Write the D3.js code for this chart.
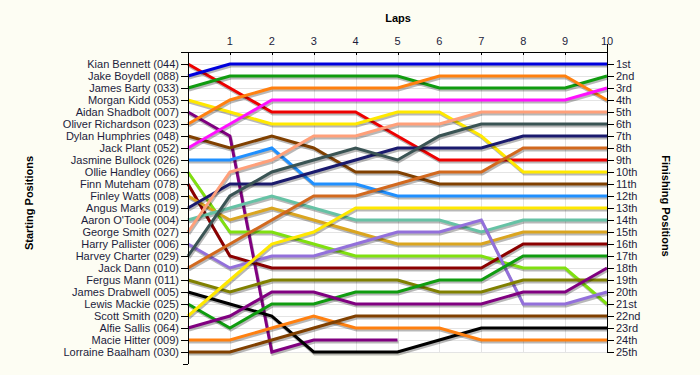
<!DOCTYPE html>
<meta charset="utf-8">
<script src="https://d3js.org/d3.v7.min.js"></script>
<style>
  body { margin: 0; background: #fdfdf3; }
</style>
<div id="chart"></div>
<script>

// drivers in starting order
const drivers = [
  "Kian Bennett (044)", "Jake Boydell (088)", "James Barty (033)", "Morgan Kidd (053)",
  "Aidan Shadbolt (007)", "Oliver Richardson (023)", "Dylan Humphries (048)", "Jack Plant (052)",
  "Jasmine Bullock (026)", "Ollie Handley (066)", "Finn Muteham (078)", "Finley Watts (008)",
  "Angus Marks (019)", "Aaron O'Toole (004)", "George Smith (027)", "Harry Pallister (006)",
  "Harvey Charter (029)", "Jack Dann (010)", "Fergus Mann (011)", "James Drabwell (005)",
  "Lewis Mackie (025)", "Scott Smith (020)", "Alfie Sallis (064)", "Macie Hitter (009)",
  "Lorraine Baalham (030)"
];

const lineColors = [
  "#ee0000", "#0000dd", "#109c10", "#ffe800", "#800080", "#ff8010", "#804000", "#ff10ff",
  "#2090ff", "#80e010", "#8b0000", "#daa520", "#1a1a6e", "#66c2a5", "#ffa07a", "#9370db",
  "#3a5454", "#d2691e", "#808000", "#000000", "#109c10", "#ffe800", "#800080", "#ff8010",
  "#804000"
];

const laps = [1, 2, 3, 4, 5, 6, 7, 8, 9, 10];

const finishLabels = [
  "1st", "2nd", "3rd", "4th", "5th", "6th", "7th", "8th", "9th", "10th",
  "11th", "12th", "13th", "14th", "15th", "16th", "17th", "18th", "19th", "20th",
  "21st", "22nd", "23rd", "24th", "25th"
];

// position of each driver at lap 0..10 (null = retired)
const positions = [
  [1, 3, 5, 5, 5, 7, 9, 9, 9, 9, 9],
  [2, 1, 1, 1, 1, 1, 1, 1, 1, 1, 1],
  [3, 2, 2, 2, 2, 2, 3, 3, 3, 3, 2],
  [4, 5, 6, 6, 6, 5, 5, 7, 10, 10, 10],
  [5, 7, 25, 24, 24, 24, null, null, null, null, null],
  [6, 4, 3, 3, 3, 3, 2, 2, 2, 2, 4],
  [7, 8, 7, 8, 10, 10, 11, 11, 11, 11, 11],
  [8, 6, 4, 4, 4, 4, 4, 4, 4, 4, 3],
  [9, 9, 8, 11, 11, 12, 12, 12, 12, 12, 12],
  [10, 15, 15, 16, 17, 17, 17, 17, 18, 18, 21],
  [11, 17, 18, 18, 18, 18, 18, 18, 16, 16, 16],
  [12, 14, 13, 14, 15, 16, 16, 16, 15, 15, 15],
  [13, 11, 11, 10, 9, 8, 8, 8, 7, 7, 7],
  [14, 13, 12, 13, 14, 14, 14, 15, 14, 14, 14],
  [15, 10, 9, 7, 7, 6, 6, 5, 5, 5, 5],
  [16, 18, 17, 17, 16, 15, 15, 14, 21, 21, 20],
  [17, 12, 10, 9, 8, 9, 7, 6, 6, 6, 6],
  [18, 16, 14, 12, 12, 11, 10, 10, 8, 8, 8],
  [19, 20, 19, 19, 19, 19, 20, 20, 19, 19, 19],
  [20, 21, 22, 25, 25, 25, 24, 23, 23, 23, 23],
  [21, 23, 21, 21, 20, 20, 19, 19, 17, 17, 17],
  [22, 19, 16, 15, 13, 13, 13, 13, 13, 13, 13],
  [23, 22, 20, 20, 21, 21, 21, 21, 20, 20, 18],
  [24, 24, 23, 22, 23, 23, 23, 24, 24, 24, 24],
  [25, 25, 24, 23, 22, 22, 22, 22, 22, 22, 22]
];

const width = 700, height = 375;
const plotLeft = 188, plotRight = 607, plotTop = 52, plotBottom = 364;
const textColor = "#1c1c3c";

const svg = d3.select("#chart")
  .append("svg")
    .attr("width", width)
    .attr("height", height)
    .style("font-family", "'Liberation Sans', Arial, sans-serif");

svg.append("defs").append("filter")
    .attr("id", "blur")
  .append("feGaussianBlur")
    .attr("stdDeviation", 0.6);

const x = d3.scaleLinear().domain([0, 10]).range([plotLeft, plotRight]);
const y = d3.scaleLinear().domain([1, 25]).range([64, 352]);
const rows = d3.range(1, 26);

// plot background + grid
svg.append("rect")
    .attr("x", plotLeft).attr("y", plotTop)
    .attr("width", plotRight - plotLeft).attr("height", 301)
    .attr("fill", "#ffffff");

svg.append("g")
  .selectAll("line")
  .data(rows)
  .join("line")
    .attr("x1", plotLeft).attr("x2", plotRight)
    .attr("y1", d => y(d) + 0.5).attr("y2", d => y(d) + 0.5)
    .attr("stroke", "#e4e4e4");

svg.append("g")
  .selectAll("line")
  .data(laps)
  .join("line")
    .attr("x1", d => Math.round(x(d)) + 0.5).attr("x2", d => Math.round(x(d)) + 0.5)
    .attr("y1", plotTop).attr("y2", 353)
    .attr("stroke", "#e4e4e4");

// lines
const line = d3.line()
    .defined(d => d != null)
    .x((d, i) => x(i))
    .y(d => y(d));

const series = svg.append("g")
  .selectAll("g")
  .data(positions)
  .join("g");

series.append("path")
    .attr("d", line)
    .attr("fill", "none")
    .attr("stroke", "#000")
    .attr("stroke-opacity", 0.28)
    .attr("stroke-width", 3)
    .attr("transform", "translate(1,2)")
    .attr("filter", "url(#blur)");

series.append("path")
    .attr("d", line)
    .attr("fill", "none")
    .attr("stroke", (d, i) => lineColors[i])
    .attr("stroke-width", 3);

// axes
const axes = svg.append("g")
    .attr("stroke", "#000")
    .attr("shape-rendering", "crispEdges");

axes.append("line").attr("x1", 181).attr("x2", plotRight).attr("y1", plotTop).attr("y2", plotTop);
axes.append("line").attr("x1", plotLeft).attr("x2", plotLeft).attr("y1", plotTop).attr("y2", plotBottom);
axes.append("line").attr("x1", 183).attr("x2", plotLeft).attr("y1", plotBottom).attr("y2", plotBottom);
axes.append("line").attr("x1", plotRight).attr("x2", plotRight).attr("y1", 44).attr("y2", 353);

// top axis: laps
svg.append("g")
    .attr("shape-rendering", "crispEdges")
  .selectAll("line")
  .data(laps)
  .join("line")
    .attr("x1", d => Math.round(x(d)) + 0.5).attr("x2", d => Math.round(x(d)) + 0.5)
    .attr("y1", plotTop).attr("y2", plotTop + 3)
    .attr("stroke", "#000");

svg.append("g")
  .selectAll("text")
  .data(laps)
  .join("text")
    .attr("x", d => x(d))
    .attr("y", 45)
    .attr("text-anchor", "middle")
    .attr("font-size", 11)
    .attr("fill", textColor)
    .text(d => d);

// left axis: drivers
svg.append("g")
    .attr("shape-rendering", "crispEdges")
  .selectAll("line")
  .data(rows)
  .join("line")
    .attr("x1", 181).attr("x2", plotLeft)
    .attr("y1", d => y(d) + 0.5).attr("y2", d => y(d) + 0.5)
    .attr("stroke", "#000");

svg.append("g")
  .selectAll("text")
  .data(drivers)
  .join("text")
    .attr("x", 179)
    .attr("y", (d, i) => y(i + 1))
    .attr("dy", "0.35em")
    .attr("text-anchor", "end")
    .attr("font-size", 11)
    .attr("fill", textColor)
    .text(d => d);

// right axis: finishing positions
svg.append("g")
    .attr("shape-rendering", "crispEdges")
  .selectAll("line")
  .data(rows)
  .join("line")
    .attr("x1", plotRight).attr("x2", 614)
    .attr("y1", d => y(d) + 0.5).attr("y2", d => y(d) + 0.5)
    .attr("stroke", "#000");

svg.append("g")
  .selectAll("text")
  .data(finishLabels)
  .join("text")
    .attr("x", 616)
    .attr("y", (d, i) => y(i + 1))
    .attr("dy", "0.35em")
    .attr("font-size", 11)
    .attr("fill", textColor)
    .text(d => d);

// titles
svg.append("text")
    .attr("x", 398).attr("y", 22)
    .attr("text-anchor", "middle")
    .attr("font-size", 11)
    .attr("font-weight", "bold")
    .text("Laps");

svg.append("text")
    .attr("transform", "translate(33,203) rotate(-90)")
    .attr("text-anchor", "middle")
    .attr("font-size", 11)
    .attr("font-weight", "bold")
    .text("Starting Positions");

svg.append("text")
    .attr("transform", "translate(662,206) rotate(90)")
    .attr("text-anchor", "middle")
    .attr("font-size", 11)
    .attr("font-weight", "bold")
    .text("Finishing Positions");

</script>
